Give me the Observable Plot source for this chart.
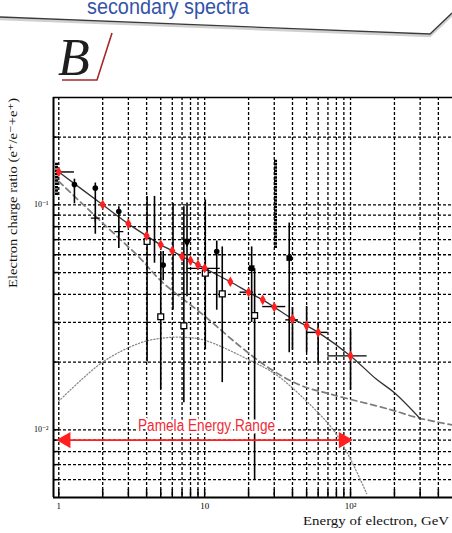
<!DOCTYPE html>
<html><head><meta charset="utf-8">
<script src="https://cdn.jsdelivr.net/npm/d3@7"></script>
<script src="https://cdn.jsdelivr.net/npm/@observablehq/plot@0.6"></script>
<style>
html,body{margin:0;padding:0;background:#fff;overflow:hidden;width:452px;height:533px}
</style></head><body><div id="chart"></div>
<script>
// ---- scales / ticks ----
const xDomain = [0.92, 500];
const yDomain = [0.005, 0.3];
const xGrid = [1,2,3,4,5,6,7,8,9,10,20,30,40,50,60,70,80,90,100,200,300,400];
const yGrid = [0.006,0.007,0.008,0.009,0.01,0.02,0.03,0.04,0.05,0.06,0.07,0.08,0.09,0.1,0.2];
const xTickValues = [1, 10, 100];
const xTickLabels = ["1", "10", "10²"];
const yTickValues = [0.01, 0.1];
const yTickLabels = ["10⁻²", "10⁻¹"];

// ---- PAMELA projected points (red) ----
const pamE = [1,2,3,4,5,6,7,8,9,10,15,20,25,30,40,50,60,100];
const pamR = [0.14,0.1,0.0823,0.0728,0.0664,0.0625,0.0589,0.0565,0.0541,0.0522,0.0455,0.0409,0.0378,0.0351,0.0311,0.029,0.0271,0.0213];
const binE = [1, 10, 20, 30, 40, 60, 100];
const binR = [0.14, 0.0522, 0.0409, 0.0353, 0.0308, 0.0271, 0.0213];
const binLo = [1, 7.6, 17.5, 25, 36, 50, 70];
const binHi = [1.28, 12.8, 21.6, 36, 44, 70, 130];
const pamErrE = [40, 50, 60, 100];
const pamErrLo = [0.0226, 0.022, 0.0198, 0.015];
const pamErrHi = [0.0349, 0.0353, 0.0299, 0.0279];

// ---- model curves ----
const modelE = [1,2,3,4,5,6,7,8,9,10,15,20,25,30,40,50,60,100,150,200,300];
const modelR = [0.14,0.1,0.0823,0.0728,0.0664,0.0625,0.0589,0.0565,0.0541,0.0522,0.0455,0.0409,0.0378,0.0351,0.0311,0.029,0.0271,0.0213,0.0168,0.0146,0.0112];
const dashE = [1,2,3.6,5,10,17.5,28,45,76,187,290,500];
const dashR = [0.127,0.083,0.058,0.046,0.032,0.0235,0.0187,0.0158,0.0143,0.0123,0.0113,0.0105];
const dotE = [1,2,3.6,5,7,10,20,30,45,76,100,129];
const dotR = [0.0134,0.020,0.0243,0.0255,0.0258,0.025,0.0205,0.0178,0.0143,0.010,0.0074,0.0052];

// ---- measured data (black) ----
const circE = [1.28, 1.78, 2.58, 5.2, 12.1];
const circR = [0.123, 0.1186, 0.0934, 0.054, 0.062];
const circLo = [0.101, 0.074, 0.064, 0.046, 0.034];
const circHi = [0.13, 0.125, 0.098, 0.062, 0.069];
const triE = [7.57];
const triR = [0.0687];
const triLo = [0.039];
const triHi = [0.102];
const fsqE = [21, 38];
const fsqR = [0.0523, 0.058];
const fsqLo = [0.03, 0.022];
const fsqHi = [0.065, 0.083];
const osqE = [4.03, 5.0, 7.2, 10.1, 13.2, 22];
const osqR = [0.0687, 0.0318, 0.029, 0.0497, 0.0402, 0.0322];
const osqLo = [0.02, 0.0151, 0.0132, 0.0227, 0.0162, 0.006];
const osqHi = [0.109, 0.062, 0.098, 0.105, 0.065, 0.052];
const crossE = [1.78, 2.58];
const crossR = [0.0873, 0.076];
const barE = [4.53, 6.07];
const barLo = [0.055, 0.034];
const barHi = [0.109, 0.1017];
const heavyE = [0.965, 30.6];
const heavyLo = [0.11, 0.064];
const heavyHi = [0.154, 0.158];

// ---- Pamela range arrow ----
const arrowE = [1, 100];
const arrowR = 0.009;
const rangeLabel = "Pamela Energy Range";
const rangeLabelE = 10.3;
const rangeLabelR = 0.0104;

const idx = a => a.map((_, i) => i);
const RED = "#ff1f1f";
const grid = {stroke: "#000", strokeOpacity: 1, strokeWidth: 1.3, strokeDasharray: "3,2"};

const chart = Plot.plot({
  width: 452, height: 533,
  marginTop: 97, marginBottom: 36, marginLeft: 53, marginRight: 0,
  x: {type: "log", domain: xDomain},
  y: {type: "log", domain: yDomain},
  style: {fontFamily: "'Liberation Serif','DejaVu Serif',serif", background: "white", overflow: "visible"},
  marks: [
    Plot.gridX(xGrid, grid),
    Plot.gridY(yGrid, grid),
    Plot.axisX(xGrid, {tickSize: -8, tickFormat: () => "", strokeWidth: 1.5, label: null}),
    Plot.axisY(yGrid, {tickSize: -6, tickFormat: () => "", strokeWidth: 1.5, label: null}),
    Plot.axisX(xTickValues, {tickSize: 0, tickPadding: 5, fontSize: 9, tickFormat: d => xTickLabels[xTickValues.indexOf(d)], label: null}),
    Plot.axisY(yTickValues, {tickSize: 0, tickPadding: 5, fontSize: 8, tickFormat: d => yTickLabels[yTickValues.indexOf(d)], label: null}),
    // curves
    Plot.line(idx(dotE), {x: i => dotE[i], y: i => dotR[i], stroke: "#8a8a8a", strokeWidth: 1.3, strokeDasharray: "1.2,2", curve: "catmull-rom"}),
    Plot.line(idx(dashE), {x: i => dashE[i], y: i => dashR[i], stroke: "#7c7c7c", strokeWidth: 1.7, strokeDasharray: "6,4", curve: "catmull-rom"}),
    Plot.line(idx(modelE), {x: i => modelE[i], y: i => modelR[i], stroke: "#333", strokeWidth: 1.3, curve: "catmull-rom"}),
    // error bars
    Plot.ruleX(idx(heavyE), {x: i => heavyE[i], y1: i => heavyLo[i], y2: i => heavyHi[i], stroke: "#000", strokeWidth: 3, strokeDasharray: "2.5,0.8"}),
    Plot.ruleX(idx(barE), {x: i => barE[i], y1: i => barLo[i], y2: i => barHi[i], stroke: "#000", strokeWidth: 1.6}),
    Plot.ruleX(idx(osqE), {x: i => osqE[i], y1: i => osqLo[i], y2: i => osqHi[i], stroke: "#000", strokeWidth: 1.6}),
    Plot.ruleX(idx(circE), {x: i => circE[i], y1: i => circLo[i], y2: i => circHi[i], stroke: "#000", strokeWidth: 1.6}),
    Plot.ruleX(idx(triE), {x: i => triE[i], y1: i => triLo[i], y2: i => triHi[i], stroke: "#000", strokeWidth: 1.6}),
    Plot.ruleX(idx(fsqE), {x: i => fsqE[i], y1: i => fsqLo[i], y2: i => fsqHi[i], stroke: "#000", strokeWidth: 1.6}),
    Plot.ruleX(idx(pamErrE), {x: i => pamErrE[i], y1: i => pamErrLo[i], y2: i => pamErrHi[i], stroke: "#000", strokeWidth: 1.6}),
    Plot.ruleY(idx(binE), {y: i => binR[i], x1: i => binLo[i], x2: i => binHi[i], stroke: "#000", strokeWidth: 1.4}),
    // markers
    Plot.dot(idx(crossE), {x: i => crossE[i], y: i => crossR[i], symbol: "plus", r: 3, stroke: "#000", strokeWidth: 1.4}),
    Plot.dot(idx(circE), {x: i => circE[i], y: i => circR[i], symbol: "circle", r: 2.8, fill: "#000"}),
    Plot.dot(idx(triE), {x: i => triE[i], y: i => triR[i], symbol: "triangle", r: 3.5, fill: "#000", rotate: 180}),
    Plot.dot(idx(fsqE), {x: i => fsqE[i], y: i => fsqR[i], symbol: "square", r: 3.2, fill: "#000"}),
    Plot.dot(idx(osqE), {x: i => osqE[i], y: i => osqR[i], symbol: "square", r: 3.3, fill: "white", stroke: "#000", strokeWidth: 1.3}),
    Plot.dot(idx(pamE), {x: i => pamE[i], y: i => pamR[i], symbol: "diamond", r: 3.2, fill: RED}),
    // frame
    Plot.ruleX([xDomain[0]], {stroke: "#000", strokeWidth: 2}),
    Plot.ruleY([yDomain[0]], {stroke: "#000", strokeWidth: 2}),
    Plot.ruleY([yDomain[1]], {stroke: "#000", strokeWidth: 1.5}),
    // Pamela range
    Plot.ruleY([arrowR], {x1: arrowE[0], x2: arrowE[1], stroke: RED, strokeWidth: 1.6}),
    Plot.dot([arrowE[0]], {x: d => d, y: arrowR, symbol: "triangle", r: 6, fill: RED, rotate: -90, dx: 7}),
    Plot.dot([arrowE[1]], {x: d => d, y: arrowR, symbol: "triangle", r: 6, fill: RED, rotate: 90, dx: -7}),
    Plot.text([rangeLabel], {x: rangeLabelE, y: rangeLabelR, text: d => d, fill: "#f02a35", stroke: "white", strokeWidth: 5, fontSize: 16, fontFamily: "'Liberation Sans',Arial,sans-serif"})
  ]
});
document.getElementById("chart").appendChild(chart);

const svg = d3.select(chart);
svg.selectAll("text").filter(function(){ return this.textContent === rangeLabel; })
  .attr("textLength", 137).attr("lengthAdjust", "spacingAndGlyphs");

// header banner
svg.append("path").attr("d", "M0,19 L430,36 L452,15").attr("fill", "none").attr("stroke", "#d0d0d0").attr("stroke-width", 2.5);
svg.append("path").attr("d", "M0,17 L430,34 L452,13").attr("fill", "none").attr("stroke", "#3a3a3a").attr("stroke-width", 1.3);
svg.append("text").attr("x", 168).attr("y", 14).attr("textLength", 162).attr("lengthAdjust", "spacingAndGlyphs")
  .attr("font-family", "'Liberation Sans',Arial,sans-serif").attr("font-size", 22).attr("fill", "#3553a8").text("secondary spectra");

// panel label
svg.append("text").attr("x", 74).attr("y", 75).attr("font-family", "'Liberation Serif',serif").attr("font-style", "italic")
  .attr("font-size", 52).attr("fill", "#1e1e1e").text("B");
svg.append("path").attr("d", "M62,80 L97,80 L112,33").attr("fill", "none").attr("stroke", "#a52a2a").attr("stroke-width", 1.6);

// axis titles
svg.append("text").attr("transform", "translate(17,193) rotate(-90)").attr("text-anchor", "middle")
  .attr("textLength", 190).attr("lengthAdjust", "spacingAndGlyphs")
  .attr("font-family", "'Liberation Serif','DejaVu Serif',serif").attr("font-size", 12.5).attr("fill", "#111")
  .text("Electron charge ratio (e⁺/e⁻+e⁺)");
svg.append("text").attr("x", 449).attr("y", 525).attr("text-anchor", "end")
  .attr("textLength", 146).attr("lengthAdjust", "spacingAndGlyphs")
  .attr("font-family", "'Liberation Serif','DejaVu Serif',serif").attr("font-size", 13).attr("fill", "#111")
  .text("Energy of electron, GeV");
</script></body></html>
